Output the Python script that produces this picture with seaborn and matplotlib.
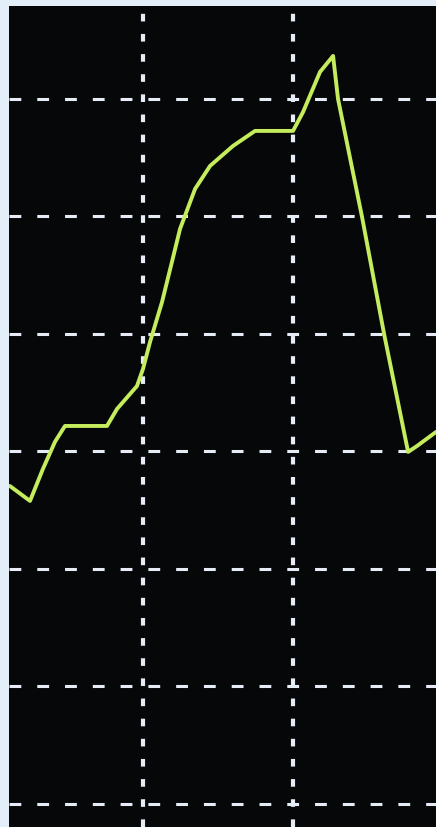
import matplotlib
matplotlib.use("Agg")
import matplotlib.pyplot as plt
import seaborn as sns

# trace (x, y in grid divisions)
time_div = [0.113, 0.247, 0.333, 0.413, 0.480, 0.760, 0.827, 0.960, 1.000,
            1.047, 1.127, 1.193, 1.247, 1.347, 1.447, 1.600, 1.747, 2.000,
            2.067, 2.180, 2.267, 2.300, 2.460, 2.607, 2.767, 2.827, 2.953]
level_div = [2.706, 2.579, 2.851, 3.081, 3.217, 3.217, 3.362, 3.557, 3.702,
             3.932, 4.272, 4.613, 4.894, 5.234, 5.430, 5.600, 5.728, 5.728,
             5.889, 6.230, 6.366, 6.000, 4.996, 4.000, 2.996, 3.047, 3.166]

grid_x = [1, 2]
grid_y = [0, 1, 2, 3, 4, 5, 6]

sns.set_style("dark")
plt.rcParams["lines.scale_dashes"] = False

fig = plt.figure(figsize=(4.36, 8.28), dpi=100)
fig.patch.set_facecolor("#e4eef9")
ax = fig.add_axes([9 / 436, 0, 427 / 436, 821 / 828])
ax.set_facecolor("#050708")

grid_col = "#e6ecf6"
for gy in grid_y:
    ax.axhline(gy, color=grid_col, lw=2.2, dashes=(8.5, 11.5), zorder=1)
for gx in grid_x:
    ax.axvline(gx, color=grid_col, lw=3.0, dashes=(5.5, 9.0), zorder=1)

sns.lineplot(x=time_div, y=level_div, ax=ax, color="#c4ec5c", lw=2.8,
             sort=False, zorder=3)

ax.set_xlim(0.107, 2.953)
ax.set_ylim(-0.196, 6.791)
ax.set_xticks([])
ax.set_yticks([])
ax.set_xlabel("")
ax.set_ylabel("")
for s in ax.spines.values():
    s.set_visible(False)

fig.savefig("out.png", dpi=100, facecolor=fig.get_facecolor())
